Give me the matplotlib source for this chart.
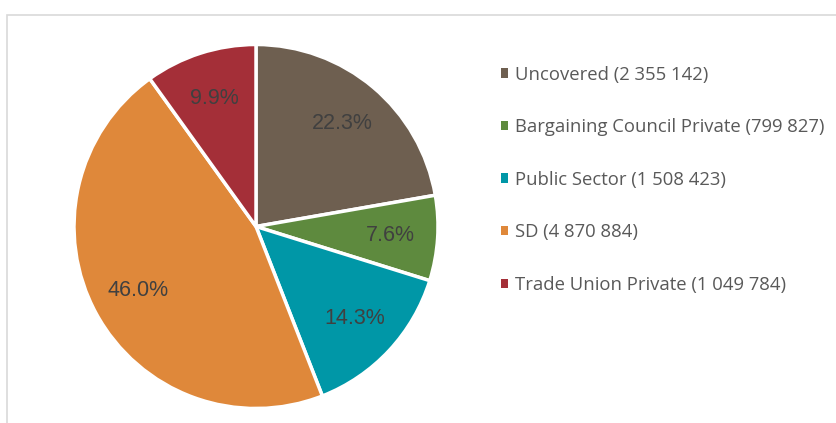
"""Pie chart of collective bargaining coverage with a legend on the right."""
import matplotlib
matplotlib.use("Agg")
import matplotlib.pyplot as plt
from matplotlib.patches import Patch, Rectangle

categories = ["Uncovered", "Bargaining Council Private", "Public Sector",
              "SD", "Trade Union Private"]
counts = [2355142, 799827, 1508423, 4870884, 1049784]
count_labels = ["2 355 142", "799 827", "1 508 423", "4 870 884", "1 049 784"]
colors = ["#6E5F50", "#5E8A3E", "#0097A7", "#DF883A", "#A42F38"]

fig = plt.figure(figsize=(8.37, 4.23), dpi=100)

# light grey chart frame (cut off at right/bottom as in the source)
fig.patches.append(Rectangle((7 / 837, -0.05), 1.0, 1 - 15 / 423 + 0.05,
                             transform=fig.transFigure, fill=False,
                             edgecolor="#D9D9D9", linewidth=1.2))

# pie axes: centre (256, 226.5) px, radius ~182 px
r = 182
ax = fig.add_axes([(256 - r) / 837, (423 - 226.5 - r) / 423,
                   2 * r / 837, 2 * r / 423])
wedges, texts, autotexts = ax.pie(
    counts, colors=colors, startangle=90, counterclock=False,
    autopct="%.1f%%", pctdistance=0.74,
    wedgeprops=dict(edgecolor="white", linewidth=2.5),
    textprops=dict(color="#404040", fontsize=15.5, family="Liberation Sans"),
)
ax.set_xlim(-1, 1)
ax.set_ylim(-1, 1)
ax.set_aspect("equal")

# legend squares without the white wedge outline
handles = [Patch(facecolor=c, edgecolor="none") for c in colors]
labels = [f"{c} ({n})" for c, n in zip(categories, count_labels)]
leg = fig.legend(handles, labels, loc="upper left",
                 bbox_to_anchor=(484 / 837, 1 - 49 / 423),
                 frameon=False, handlelength=0.4, handleheight=0.4,
                 handletextpad=0.4, labelspacing=1.87,
                 prop=dict(family="Open Sans", size=13.3))
for t in leg.get_texts():
    t.set_color("#595959")

fig.savefig("out.png", dpi=100)
